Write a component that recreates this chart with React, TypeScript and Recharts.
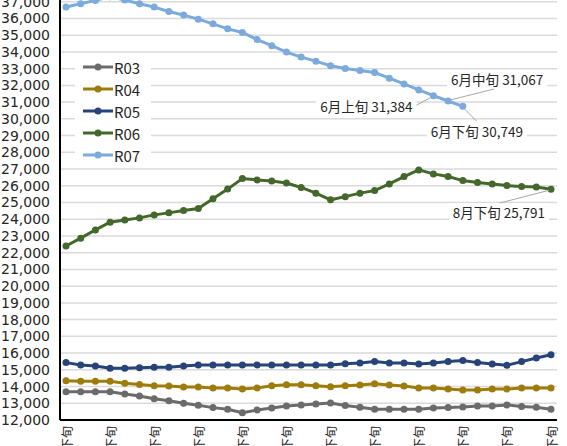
import React from "react";
import {
  LineChart,
  Line,
  XAxis,
  YAxis,
  CartesianGrid,
  Legend,
  LabelList,
} from "recharts";

const categories = [
  "9月下旬",
  "10月上旬", "10月中旬", "10月下旬",
  "11月上旬", "11月中旬", "11月下旬",
  "12月上旬", "12月中旬", "12月下旬",
  "1月上旬", "1月中旬", "1月下旬",
  "2月上旬", "2月中旬", "2月下旬",
  "3月上旬", "3月中旬", "3月下旬",
  "4月上旬", "4月中旬", "4月下旬",
  "5月上旬", "5月中旬", "5月下旬",
  "6月上旬", "6月中旬", "6月下旬",
  "7月上旬", "7月中旬", "7月下旬",
  "8月上旬", "8月中旬", "8月下旬",
];

const r03 = [
  13690, 13690, 13690, 13690, 13560, 13440, 13270, 13150, 13000, 12880,
  12740, 12640, 12440, 12600, 12720, 12840, 12900, 12960, 13020, 12870,
  12760, 12640, 12640, 12640, 12640, 12720, 12740, 12780, 12840, 12840,
  12900, 12800, 12760, 12640,
];
const r04 = [
  14350, 14310, 14310, 14310, 14200, 14120, 14050, 14030, 13970, 13970,
  13910, 13910, 13850, 13910, 14050, 14110, 14110, 14050, 13990, 14040,
  14090, 14170, 14090, 14030, 13910, 13910, 13850, 13790, 13790, 13850,
  13850, 13910, 13910, 13910,
];
const r05 = [
  15430, 15290, 15230, 15090, 15090, 15130, 15150, 15150, 15230, 15290,
  15290, 15290, 15290, 15290, 15290, 15290, 15290, 15290, 15290, 15360,
  15410, 15490, 15410, 15410, 15350, 15410, 15490, 15550, 15430, 15350,
  15270, 15490, 15710, 15900,
];
const r06 = [
  22400, 22870, 23360, 23820, 23960, 24080, 24260, 24380, 24520, 24640,
  25220, 25800, 26430, 26350, 26290, 26160, 25900, 25560, 25160, 25350,
  25560, 25710, 26110, 26550, 26950, 26710, 26550, 26310, 26190, 26110,
  26010, 25950, 25920, 25791,
];
const r07 = [
  36680, 36880, 37080, 37300, 37100, 36880, 36680, 36420, 36200, 35960,
  35680, 35380, 35160, 34740, 34370, 33990, 33690, 33450, 33170, 33010,
  32890, 32770, 32430, 32090, 31730, 31384, 31067, 30749,
];

const yTicks = [
  12000, 13000, 14000, 15000, 16000, 17000, 18000, 19000, 20000, 21000,
  22000, 23000, 24000, 25000, 26000, 27000, 28000, 29000, 30000, 31000,
  32000, 33000, 34000, 35000, 36000, 37000,
];

const seriesList = [
  { name: "R03", color: "#6b6b6b", values: r03 },
  { name: "R04", color: "#9e7c0c", values: r04 },
  { name: "R05", color: "#264478", values: r05 },
  { name: "R06", color: "#44682c", values: r06 },
  { name: "R07", color: "#7baadc", values: r07 },
];

// where each callout sits relative to its point
const notePlacement: {
  [key: string]: { anchor: "start" | "end"; dx: number; dy: number; line: number[] };
} = {
  "R07-25": { anchor: "end", dx: -21, dy: 10, line: [-3, 2, -18, 10] },
  "R07-26": { anchor: "start", dx: 3, dy: -22, line: [2, -1, 46, -12] },
  "R07-27": { anchor: "start", dx: -32, dy: 25, line: [2, 3, 14, 15] },
  "R06-33": { anchor: "end", dx: -6, dy: 23, line: [-2, 1, -52, 14] },
};

const chartData = categories.map((name, i) => {
  const row: { [key: string]: string | number | null } = { name };
  seriesList.forEach((s) => {
    row[s.name] = s.values[i] ?? null;
  });
  return row;
});

const textWidth = (text: string) =>
  text.split("").reduce((w, ch) => {
    if (/[0-9]/.test(ch)) return w + 7.4;
    if (ch === "," || ch === " ") return w + 3.6;
    return w + 13.5;
  }, 0);

const makeNote = (seriesName: string) => (props: any) => {
  const { x, y, index, value } = props;
  const p = notePlacement[`${seriesName}-${index}`];
  if (!p || value == null) return null;
  const text = `${categories[index]} ${Number(value).toLocaleString("en-US")}`;
  const w = textWidth(text);
  const tx = x + p.dx;
  const ty = y + p.dy;
  const left = p.anchor === "end" ? tx - w : tx;
  return (
    <g>
      <line
        x1={x + p.line[0]}
        y1={y + p.line[1]}
        x2={x + p.line[2]}
        y2={y + p.line[3]}
        stroke="#a6a6a6"
        strokeWidth={1}
      />
      <rect x={left - 4} y={ty - 9} width={w + 8} height={18} fill="#fff" />
      <text
        x={tx}
        y={ty}
        textAnchor={p.anchor}
        dominantBaseline="central"
        fontSize={13.5}
        fill="#262626"
      >
        {text}
      </text>
    </g>
  );
};

const XTick = (props: any) => {
  const { x, y, payload } = props;
  return (
    <text
      x={x}
      y={y}
      transform={`rotate(-90 ${x} ${y})`}
      textAnchor="end"
      dominantBaseline="central"
      fontSize={12}
      fill="#262626"
    >
      {payload.value}
    </text>
  );
};

const LegendBox = (props: any) => {
  const { payload } = props;
  return (
    <div style={{ background: "#fff", padding: "0 0 0 8px" }}>
      {(payload || []).map((item: any) => (
        <div
          key={item.value}
          style={{ display: "flex", alignItems: "center", height: 22 }}
        >
          <svg width={30} height={10}>
            <line x1={0} y1={5} x2={30} y2={5} stroke={item.color} strokeWidth={3} />
            <circle cx={15} cy={5} r={3.5} fill={item.color} />
          </svg>
          <span style={{ fontSize: 15, color: "#262626", marginLeft: 1 }}>
            {item.value}
          </span>
        </div>
      ))}
    </div>
  );
};

export default function App() {
  return (
    <div
      style={{
        position: "absolute",
        left: 0,
        top: 0,
        width: 567,
        height: 446,
        overflow: "hidden",
        background: "#fff",
        fontFamily: '"Noto Sans CJK JP", "Noto Sans", sans-serif',
      }}
    >
      <div style={{ position: "absolute", left: 0, top: -20 }}>
        <LineChart
          width={567}
          height={490}
          data={chartData}
          margin={{ top: 5, right: 10, bottom: 0, left: 0 }}
        >
          <CartesianGrid vertical={false} stroke="#dadada" strokeWidth={1.5} />
          <XAxis
            dataKey="name"
            interval={2}
            padding={{ left: 6, right: 6 }}
            height={50}
            tickLine={false}
            tickMargin={0}
            axisLine={{ stroke: "#000", strokeWidth: 2 }}
            tick={<XTick />}
          />
          <YAxis
            domain={[12000, 38000]}
            ticks={yTicks}
            interval={0}
            width={60}
            tickLine={false}
            tickMargin={4}
            axisLine={{ stroke: "#000", strokeWidth: 2 }}
            tick={{ fontSize: 14, fill: "#262626", fontFamily: '"DejaVu Sans", sans-serif' }}
            tickFormatter={(v: number) => v.toLocaleString("en-US")}
          />
          <Legend
            layout="vertical"
            align="center"
            verticalAlign="middle"
            wrapperStyle={{ left: 75, top: 76, width: 76 }}
            content={<LegendBox />}
          />
          {seriesList.map((s) => (
            <Line
              key={s.name}
              dataKey={s.name}
              stroke={s.color}
              strokeWidth={3}
              dot={{ r: 3.5, fill: s.color, stroke: s.color, strokeWidth: 0 }}
              activeDot={false}
              isAnimationActive={false}
            >
              {s.name === "R07" || s.name === "R06" ? (
                <LabelList dataKey={s.name} content={makeNote(s.name)} />
              ) : null}
            </Line>
          ))}
        </LineChart>
      </div>
    </div>
  );
}
